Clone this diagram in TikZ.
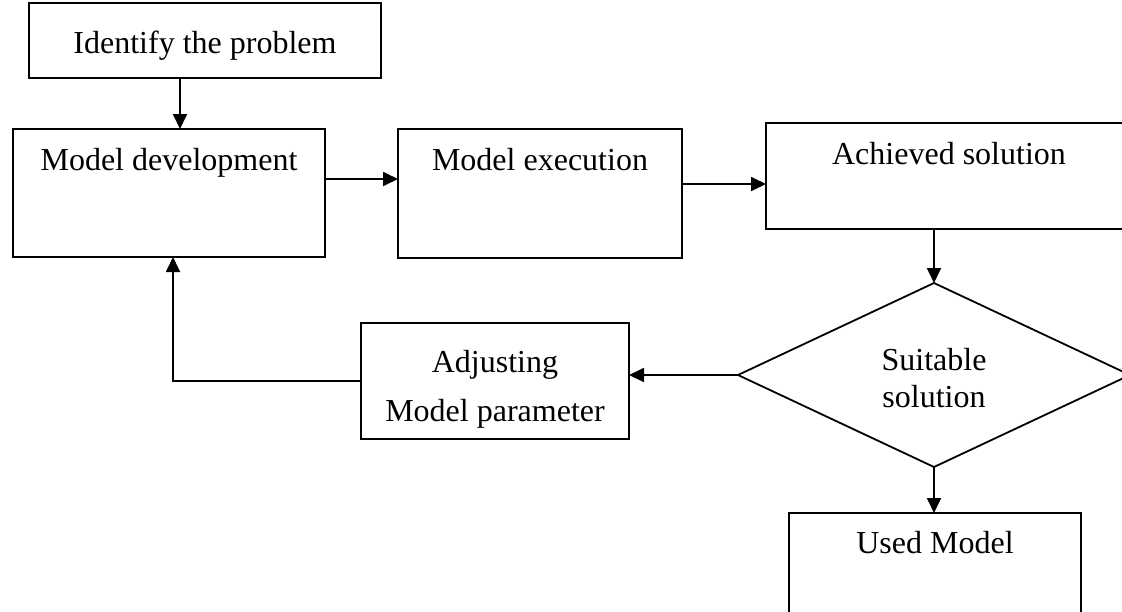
\documentclass[tikz,border=0pt]{standalone}
\usepackage{fontspec}
\setmainfont{Liberation Serif}
\usetikzlibrary{arrows.meta,shapes.geometric}

\begin{document}
\begin{tikzpicture}[x=1pt,y=-1pt,
  box/.style={draw,line width=1.8pt,inner sep=0pt,outer sep=0pt,
    font=\fontsize{32}{37}\selectfont,anchor=base,align=center},
  decision/.style={draw,diamond,line width=1.8pt,inner sep=0pt,outer sep=0pt,
    font=\fontsize{32}{37}\selectfont,align=center},
  arr/.style={line width=1.8pt,-{Triangle[length=15pt,width=14pt]}},
]
\useasboundingbox (0,0) rectangle (1122,611);
\clip (0,0) rectangle (1122,611);

% process boxes (text sits near the top of each box)
\node[box,minimum width=352pt,text height=50pt,text depth=25pt] (ident) at (205,53) {Identify the problem};
\node[box,minimum width=312pt,text height=41pt,text depth=87pt] (dev) at (169,170) {Model development};
\node[box,minimum width=284pt,text height=41pt,text depth=88pt] (exe) at (540,170) {Model execution};
\node[box,minimum width=366pt,text height=41pt,text depth=65pt] (ach) at (949,164) {Achieved solution};
\node[box,minimum width=268pt,text height=98pt,text depth=18pt,font=\fontsize{32}{49}\selectfont] (adj) at (495,421) {Adjusting\\Model parameter};
\node[box,minimum width=292pt,text height=40pt,text depth=107pt] (used) at (935,553) {Used Model};

% decision
\node[decision,minimum width=392pt,minimum height=184pt] (dec) at (934,375) {\rule{0pt}{28pt}Suitable\\solution};

% connectors
\draw[arr] ([xshift=-25pt]ident.south) -- ([xshift=-25pt]ident.south |- dev.north);
\draw[arr] ([yshift=14pt]dev.east) -- ([yshift=14pt]dev.east -| exe.west);
\draw[arr] ([yshift=9.5pt]exe.east) -- ([yshift=9.5pt]exe.east -| ach.west);
\draw[arr] (dec.north |- ach.south) -- (dec.north);
\draw[arr] (dec.west) -- (dec.west -| adj.east);
\draw[arr] (adj.west) -| ([xshift=4pt]dev.south);
\draw[arr] (dec.south) -- (dec.south |- used.north);
\end{tikzpicture}
\end{document}
